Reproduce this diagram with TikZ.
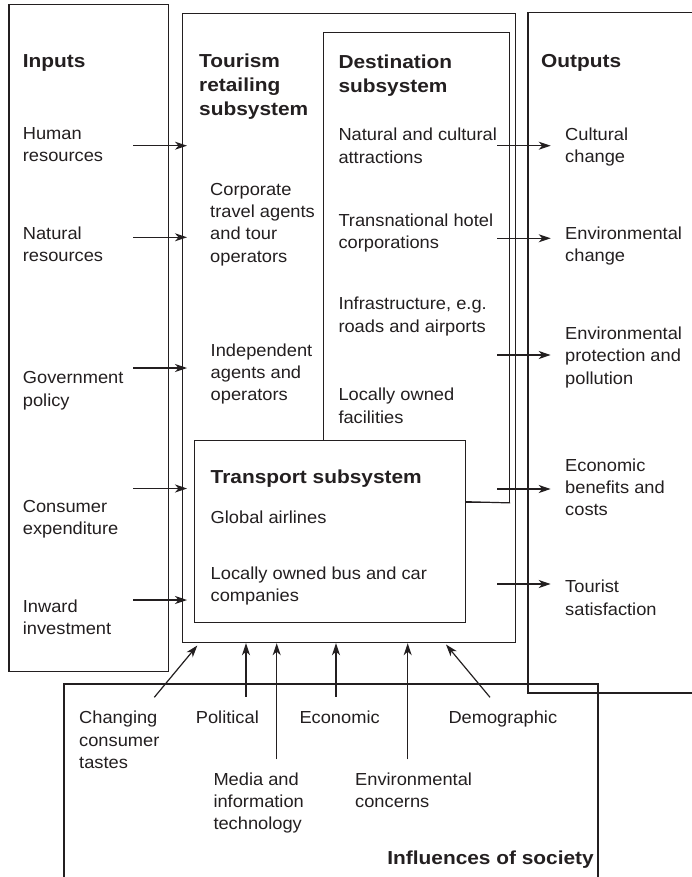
\documentclass[tikz,border=0pt]{standalone}
\usepackage{fontspec}
\setmainfont{Liberation Sans}
\newfontfamily\regf[FakeStretch=1.05]{Liberation Sans}
\newfontfamily\boldf[FakeStretch=1.11]{Liberation Sans}
\usetikzlibrary{arrows.meta}
\definecolor{ink}{RGB}{35,31,32}
\tikzset{
  lbl/.style={anchor=north west, inner sep=0pt, align=left, text=ink,
    font=\regf\fontsize{17.4}{22.4}\selectfont},
  head/.style={anchor=north west, inner sep=0pt, align=left, text=ink,
    font=\boldf\bfseries\fontsize{18.8}{24}\selectfont},
  box/.style={draw=ink, line width=1.2pt, inner sep=0pt, anchor=north west, rectangle},
  ln/.style={draw=ink, line width=1.2pt},
  arr/.style={draw=ink, line width=1.2pt, -{Stealth[length=12pt,width=8pt,inset=3.5pt]}},
}
\begin{document}
\begin{tikzpicture}[x=1pt,y=-1pt]
\useasboundingbox (0,0) rectangle (692,877);
\fill[white] (0,0) rectangle (692,877);

% ---------- boxes ----------
\node[box, minimum width=159.4pt, minimum height=667pt] (inputs) at (8.3,4) {};
\node[box, minimum width=333pt, minimum height=629.3pt] (main) at (182,12.7) {};
\node[box, minimum width=186.3pt, minimum height=469.7pt] (dest) at (322.7,32) {};
\node[box, fill=white, minimum width=271.5pt, minimum height=182pt] (transport) at (193.5,440) {};
% outputs box (open on the right)
\draw[ln] (700,12.7) -- (528,12.7) -- (528,693) -- (700,693);
% influences box (open at the bottom)
\draw[ln] (64,890) -- (64,684) -- (598,684) -- (598,890);

% ---------- headings ----------
\node[head] (hin) at (22.7,54) {Inputs};
\node[head] (htour) at (199,54) {Tourism\\retailing\\subsystem};
\node[head] (hdest) at (338.3,54.5) {Destination\\subsystem};
\node[head] (hout) at (541,54) {Outputs};
\node[head] (htrans) at (210.5,469.3) {Transport subsystem};
\node[head, anchor=north east] (hinf) at (594,850.7) {Influences of society};

% ---------- inputs ----------
\node[lbl] (ihum) at (22.7,127) {Human\\resources};
\node[lbl] (inat) at (22.7,226.7) {Natural\\resources};
\node[lbl] (igov) at (22.7,371.5) {Government\\policy};
\node[lbl] (icon) at (22.7,500) {Consumer\\expenditure};
\node[lbl] (iinw) at (22.7,599.3) {Inward\\investment};

% ---------- tourism retailing ----------
\node[lbl] (tcorp) at (210,182.7) {Corporate\\travel agents\\and tour\\operators};
\node[lbl] (tind) at (210.5,343.3) {Independent\\agents and\\operators};

% ---------- destination ----------
\node[lbl] (dnat) at (338.3,128) {Natural and cultural\\attractions};
\node[lbl] (dhot) at (338.3,213.5) {Transnational hotel\\corporations};
\node[lbl] (dinf) at (338.3,297) {Infrastructure, e.g.\\roads and airports};
\node[lbl] (dloc) at (338.3,388) {Locally owned\\facilities};

% ---------- transport ----------
\node[lbl] (tglob) at (210.5,510.7) {Global airlines};
\node[lbl] (tbus) at (210.5,566.7) {Locally owned bus and car\\companies};

% ---------- outputs ----------
\node[lbl] (ocul) at (565,127.7) {Cultural\\change};
\node[lbl] (oenv) at (565,226.5) {Environmental\\change};
\node[lbl] (oprot) at (565,326.7) {Environmental\\protection and\\pollution};
\node[lbl] (oeco) at (565,458.3) {Economic\\benefits and\\costs};
\node[lbl] (otour) at (565,580) {Tourist\\satisfaction};

% ---------- influences ----------
\node[lbl] (fchg) at (79,711) {Changing\\consumer\\tastes};
\node[lbl] (fpol) at (195.7,711) {Political};
\node[lbl] (feco) at (299.3,711) {Economic};
\node[lbl] (fdem) at (448.3,711) {Demographic};
\node[lbl] (fmed) at (213.3,772.3) {Media and\\information\\technology};
\node[lbl] (fenv) at (355,772.3) {Environmental\\concerns};

% ---------- input arrows ----------
\foreach \n/\y in {hum/145.7, nat/237.3, gov/368, con/488.5, inw/600}{
  \coordinate (a\n s) at (133,\y);
  \coordinate (a\n e) at (187,\y);
  \draw[arr] (a\n s) -- (a\n e);
}
% ---------- output arrows ----------
\foreach \n/\y in {cul/145.7, env/238.3, prot/355, eco/489, tour/584}{
  \coordinate (b\n s) at (497,\y);
  \coordinate (b\n e) at (550.7,\y);
  \draw[arr] (b\n s) -- (b\n e);
}

% transport connector to destination box
\draw[ln] (transport.east |- 0,501.7) -- (dest.south east);

% ---------- influence arrows ----------
\coordinate (cchg) at (154.3,697.3);
\coordinate (cdem) at (490,697.3);
\coordinate (cpol) at (246,696.5);
\coordinate (ceco) at (336,696.5);
\coordinate (cmed) at (276.7,759.3);
\coordinate (cenv) at (407.7,759.3);
\draw[arr] (cchg) -- (197.3,645.5);
\draw[arr] (cpol) -- (cpol |- main.south);
\draw[arr] (cmed) -- (cmed |- main.south);
\draw[arr] (ceco) -- (ceco |- main.south);
\draw[arr] (cenv) -- (cenv |- main.south);
\draw[arr] (cdem) -- (446,644.5);
\end{tikzpicture}
\end{document}
